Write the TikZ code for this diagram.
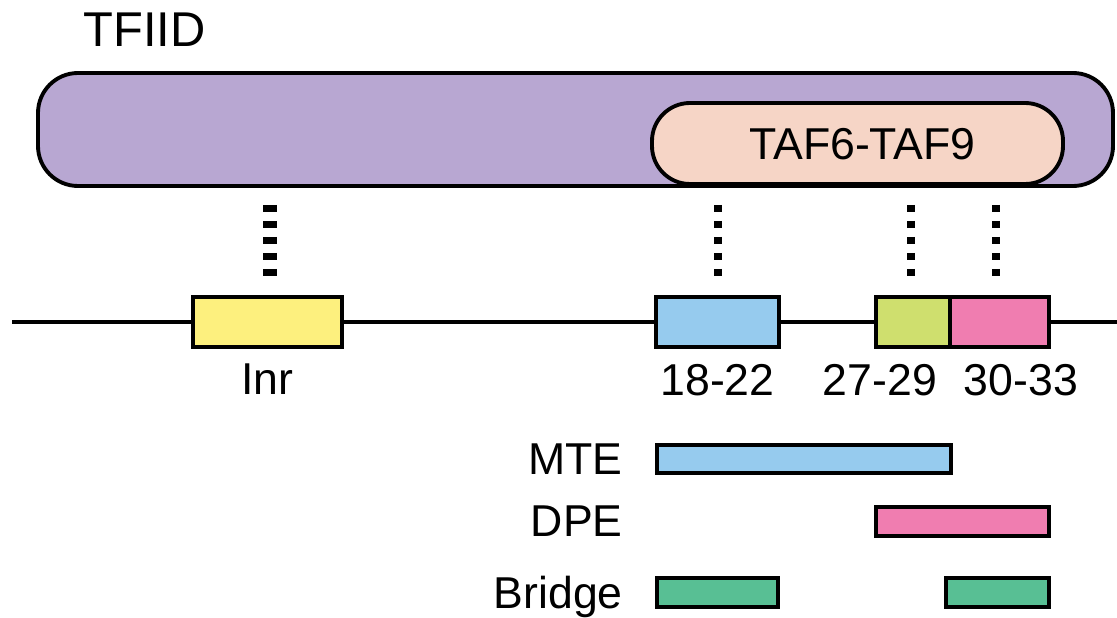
\documentclass[tikz,border=0pt]{standalone}
\usepackage{fontspec}
\setmainfont{Liberation Sans}
\usepackage{tikz}
\usetikzlibrary{positioning,fit}
\definecolor{tfiidpurple}{HTML}{B8A7D2}
\definecolor{tafpeach}{HTML}{F6D5C6}
\definecolor{inryellow}{HTML}{FDF07E}
\definecolor{mteblue}{HTML}{96CBEE}
\definecolor{dpelime}{HTML}{CFDF6E}
\definecolor{dpepink}{HTML}{F07DB0}
\definecolor{bridgegreen}{HTML}{58BF94}
\tikzset{
  elem/.style={draw,line width=2.2pt,inner sep=0pt},
  num/.style={font=\fontsize{25.4}{30}\selectfont,inner sep=0pt,text depth=0pt},
  dotlink/.style={line width=#1,dash pattern=on 4.2pt off 4.9pt}
}

\begin{document}
\begin{tikzpicture}[x=0.02cm,y=-0.02cm]
\useasboundingbox (0,0) rectangle (1117,618);
\node[elem,fill=tfiidpurple,rounded corners=0.8cm,fit={(38,73)(1113,186)}] (tfiid) {};
\node[elem,fill=tafpeach,rounded corners=0.76cm,fit={(652,103)(1063,184)}] (taf) {};
\node[num,xshift=0.1cm] (taflbl) at (taf.center) {TAF6-TAF9};
\node[num,font=\fontsize{27.8}{32}\selectfont,anchor=base west] (tfiidlbl) at (83,47) {TFIID};
\foreach \x/\n in {718/a,911/b,996/c}{
  \coordinate (t\n) at (\x,205);
  \coordinate (b\n) at (\x,276);
  \draw[dotlink=4.2pt] (t\n) -- (b\n);
}
\coordinate (ti) at (270,205);
\coordinate (bi) at (270,276);
\draw[dotlink=8.5pt] (ti) -- (bi);
\node[elem,fill=inryellow,fit={(193,297)(342,347)}] (inr) {};
\node[elem,fill=mteblue,fit={(656,297)(779,347)}] (s1822) {};
\node[elem,fill=dpelime,fit={(876,297)(950,347)}] (s2729) {};
\node[elem,fill=dpepink,fit={(950,297)(1049,347)}] (s3033) {};
\coordinate (lend) at (12,322);
\coordinate (rend) at (1117,322);
\draw[line width=2.2pt] (lend) -- (inr) -- (s1822) -- (s2729);
\draw[line width=2.2pt] (s3033) -- (rend);
\node[num,below=0.3cm of inr] (inrlbl) {Inr};
\node[num,below=0.3cm of s1822] (lbl1822) {18-22};
\node[num,below=0.3cm of s2729,xshift=-0.66cm] (lbl2729) {27-29};
\node[num,below=0.3cm of s3033,xshift=0.43cm] (lbl3033) {30-33};
\node[elem,fill=mteblue,fit={(657,445)(951,473)}] (mte) {};
\node[elem,fill=dpepink,fit={(876,507)(1049,536)}] (dpe) {};
\node[elem,fill=bridgegreen,fit={(657,578)(778,607)}] (brl) {};
\node[elem,fill=bridgegreen,fit={(946,578)(1049,607)}] (brr) {};
\node[num,left=0.64cm of mte] (mtelbl) {MTE};
\node[num,anchor=east] (dpelbl) at (mtelbl.east |- dpe.west) {DPE};
\node[num,left=0.64cm of brl] (brlbl) {Bridge};
\end{tikzpicture}
\end{document}
